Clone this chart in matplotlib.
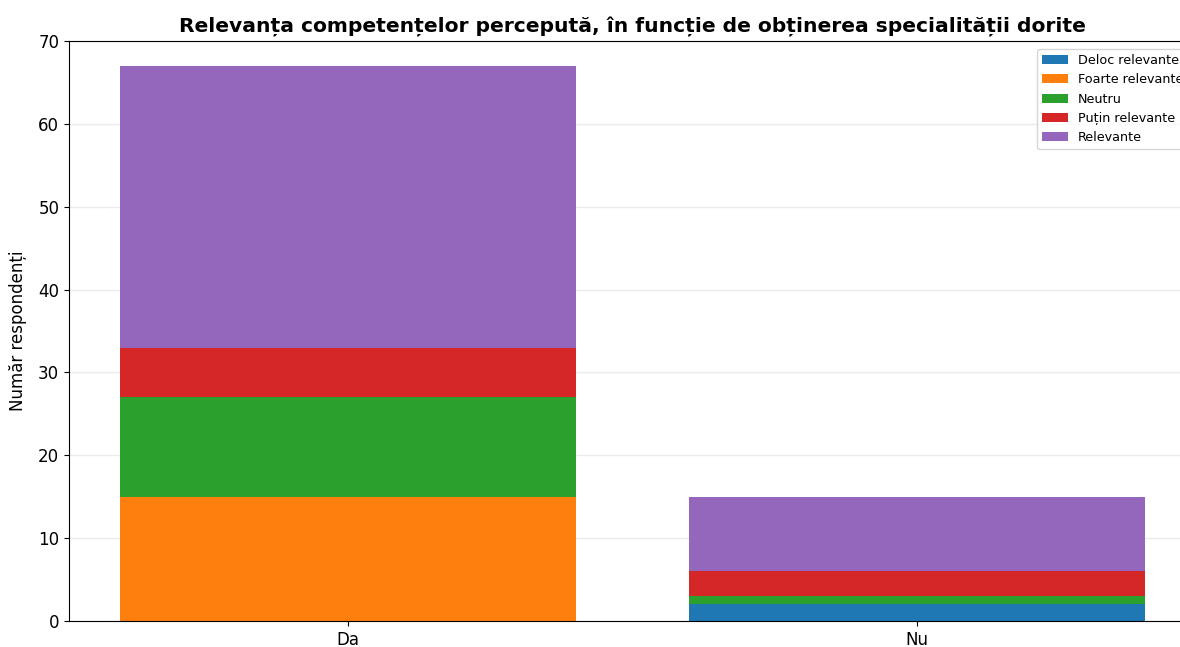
import matplotlib.pyplot as plt
import numpy as np

categories = ["Da", "Nu"]
series_names = ["Deloc relevante", "Foarte relevante", "Neutru", "Puțin relevante", "Relevante"]
deloc = [0, 2]
foarte = [15, 0]
neutru = [12, 1]
putin = [6, 3]
relevante = [34, 9]
colors = ["#1f77b4", "#ff7f0e", "#2ca02c", "#d62728", "#9467bd"]

fig = plt.figure(figsize=(11.8, 6.47), dpi=100)
# axes runs past the right edge, like in the reference
ax = fig.add_axes([69 / 1180, 26 / 647, 1127 / 1180, 580 / 647])

x = np.arange(len(categories))
bottom = np.zeros(len(categories))
for name, vals, c in zip(series_names, [deloc, foarte, neutru, putin, relevante], colors):
    ax.bar(x, vals, width=0.8, bottom=bottom, color=c, label=name)
    bottom += np.array(vals)

ax.set_xticks(x)
ax.set_xticklabels(categories, fontsize=12)
ax.tick_params(axis="y", labelsize=12)
ax.set_ylim(0, 70)
ax.set_ylabel("Număr respondenți", fontsize=12, labelpad=8)
ax.set_title("Relevanța competențelor percepută, în funcție de obținerea specialității dorite",
             fontsize=14.6, fontweight="bold", pad=7)
ax.yaxis.grid(True, color="#ebebeb", linewidth=1)
ax.set_axisbelow(True)
ax.legend(loc="upper right", fontsize=9.2, borderaxespad=0.6)

fig.savefig("out.png", dpi=100)
